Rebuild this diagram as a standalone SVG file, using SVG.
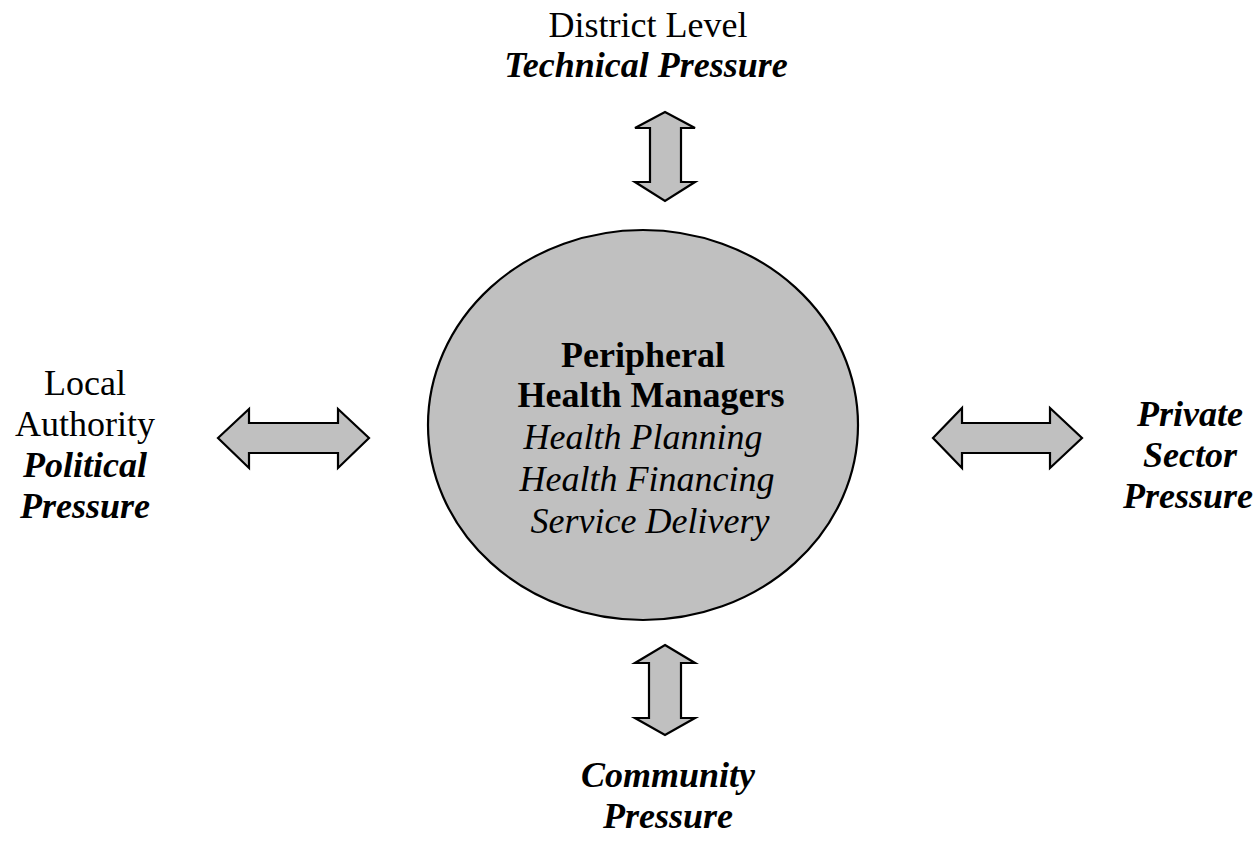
<svg xmlns="http://www.w3.org/2000/svg" width="1253" height="858" viewBox="0 0 1253 858">
<style>
.shape{fill:#c0c0c0;stroke:#000;stroke-width:2.2;stroke-linejoin:miter}
text{font-family:"Liberation Serif","Times New Roman",serif;font-size:36px;fill:#000;text-anchor:middle}
.b{font-weight:bold}
.i{font-style:italic}
</style>
<rect width="1253" height="858" fill="#fff"/>
<g id="connectors">
<path id="arrow-top" class="shape" d="M665,112 L695,128 L681,128 L681,182 L695,182 L665,201 L635,182 L650,182 L650,128 L635,128 Z"/>
<path id="arrow-bottom" class="shape" d="M665,645 L695,663 L681,663 L681,718 L695,718 L665,735 L635,718 L649,718 L649,663 L635,663 Z"/>
<path id="arrow-left" class="shape" d="M218,438 L249,409 L249,423 L338,423 L338,409 L369,438 L338,468 L338,453 L249,453 L249,468 Z"/>
<path id="arrow-right" class="shape" d="M933,438 L962,408 L962,423 L1050,423 L1050,408 L1082,438 L1050,468 L1050,453 L962,453 L962,468 Z"/>
</g>
<g id="center">
<ellipse class="shape" cx="643" cy="425" rx="215" ry="195"/>
<text class="b" x="643" y="367">Peripheral</text>
<text class="b" x="651" y="407">Health Managers</text>
<text class="i" x="643" y="449">Health Planning</text>
<text class="i" x="647" y="491">Health Financing</text>
<text class="i" x="650" y="533">Service Delivery</text>
</g>
<g id="top">
<text x="648" y="37">District Level</text>
<text class="b i" x="646" y="77">Technical Pressure</text>
</g>
<g id="left">
<text x="85" y="395">Local</text>
<text x="85" y="436">Authority</text>
<text class="b i" x="85" y="477">Political</text>
<text class="b i" x="85" y="518">Pressure</text>
</g>
<g id="right">
<text class="b i" x="1190" y="426">Private</text>
<text class="b i" x="1190" y="467">Sector</text>
<text class="b i" x="1188" y="508">Pressure</text>
</g>
<g id="bottom">
<text class="b i" x="668" y="787">Community</text>
<text class="b i" x="668" y="828">Pressure</text>
</g>
</svg>
